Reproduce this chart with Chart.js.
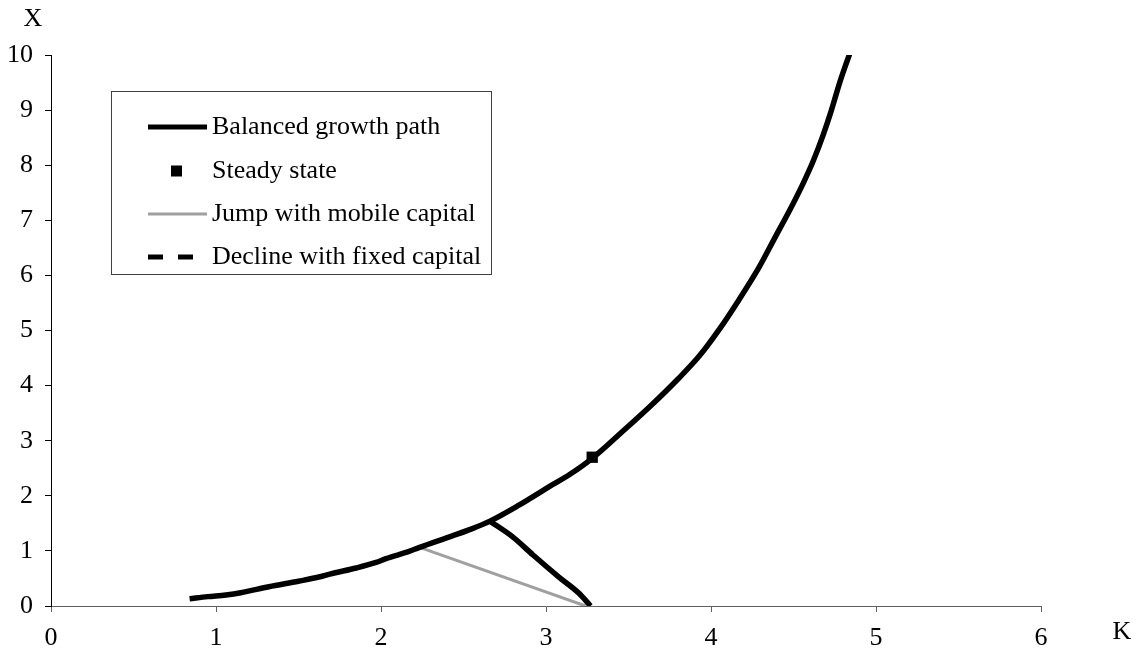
<!DOCTYPE html>
<html>
<head>
<meta charset="utf-8">
<title>Balanced growth path</title>
<script src="https://cdn.jsdelivr.net/npm/chart.js@4.4.0/dist/chart.umd.min.js"></script>
<style>
  html, body { margin: 0; padding: 0; background: #fff; }
  #wrap { position: relative; width: 1138px; height: 656px; }
</style>
</head>
<body>
<div id="wrap"><canvas id="chart"></canvas></div>
<script>
/* ---- data ---- */
const growthK  = [0.84, 0.95, 1.06, 1.15, 1.32, 1.50, 1.63, 1.69, 1.85, 1.97, 2.03, 2.17, 2.23, 2.42, 2.55, 2.66, 2.83, 3.00, 3.15, 3.28, 3.45, 3.63, 3.80, 3.93, 4.05, 4.17, 4.29, 4.39, 4.48, 4.56, 4.62, 4.68, 4.73, 4.78, 4.82, 4.85];
const growthX  = [0.13, 0.17, 0.20, 0.24, 0.35, 0.45, 0.53, 0.58, 0.69, 0.79, 0.86, 0.99, 1.06, 1.26, 1.40, 1.54, 1.82, 2.13, 2.40, 2.68, 3.13, 3.62, 4.12, 4.54, 5.02, 5.56, 6.14, 6.70, 7.20, 7.68, 8.08, 8.55, 9.00, 9.50, 9.85, 10.1];
const steadyK  = [3.28];
const steadyX  = [2.70];
const jumpK    = [2.23, 3.24];
const jumpX    = [1.07, 0];
const declineK = [2.66, 2.80, 2.92, 3.08, 3.20, 3.27];
const declineX = [1.54, 1.25, 0.93, 0.52, 0.23, 0];
const kTicks   = [0, 1, 2, 3, 4, 5, 6];
const xTicks   = [0, 1, 2, 3, 4, 5, 6, 7, 8, 9, 10];
const legendLabels = ['Balanced growth path', 'Steady state', 'Jump with mobile capital', 'Decline with fixed capital'];

const FAMILY = "'Liberation Serif', 'Times New Roman', serif";
const FSIZE = 26;
const GRAY = '#a0a0a0';

const pts = (xs, ys) => xs.map((x, i) => ({ x, y: ys[i] }));

// legend box and the two axis letters, drawn on the canvas
const extras = {
  id: 'extras',
  afterDraw(chart) {
    const ctx = chart.ctx;
    ctx.save();
    ctx.font = `${FSIZE}px ${FAMILY}`;
    ctx.textBaseline = 'middle';

    const left = 111, top = 91, bottom = 274;
    const rows = [127, 171, 214, 257];
    const x0 = 148, x1 = 207, textX = 212;
    const w = Math.max(...legendLabels.map(t => ctx.measureText(t).width));
    const right = Math.round(textX + w + 10);

    ctx.fillStyle = '#fff';
    ctx.fillRect(left, top, right - left, bottom - top);
    ctx.strokeStyle = '#404040';
    ctx.lineWidth = 1;
    ctx.strokeRect(left + 0.5, top + 0.5, right - left, bottom - top);

    // samples
    ctx.strokeStyle = '#000'; ctx.lineWidth = 5;
    ctx.beginPath(); ctx.moveTo(x0, rows[0]); ctx.lineTo(x1, rows[0]); ctx.stroke();
    ctx.fillStyle = '#000';
    ctx.fillRect(171, rows[1] - 5.5, 11, 11);
    ctx.strokeStyle = GRAY; ctx.lineWidth = 3;
    ctx.beginPath(); ctx.moveTo(x0, rows[2]); ctx.lineTo(x1, rows[2]); ctx.stroke();
    ctx.strokeStyle = '#000'; ctx.lineWidth = 5;
    ctx.setLineDash([15, 15]);
    ctx.beginPath(); ctx.moveTo(x0, rows[3]); ctx.lineTo(194, rows[3]); ctx.stroke();
    ctx.setLineDash([]);

    ctx.fillStyle = '#000';
    ctx.textAlign = 'left';
    legendLabels.forEach((t, i) => ctx.fillText(t, textX, rows[i]));

    // axis letters
    ctx.textAlign = 'center';
    ctx.fillText('X', 33, 19);
    ctx.fillText('K', 1122, 632);
    ctx.restore();
  }
};

new Chart(document.getElementById('chart'), {
  type: 'scatter',
  data: {
    datasets: [
      { label: legendLabels[1], data: pts(steadyK, steadyX), showLine: false,
        pointStyle: 'rect', pointRadius: 8, pointBackgroundColor: '#000', pointBorderWidth: 0 },
      { label: legendLabels[0], data: pts(growthK, growthX), showLine: true,
        borderColor: '#000', borderWidth: 5.5, pointRadius: 0, cubicInterpolationMode: 'monotone' },
      { label: legendLabels[3], data: pts(declineK, declineX), showLine: true,
        borderColor: '#000', borderWidth: 5.5, pointRadius: 0, cubicInterpolationMode: 'monotone' },
      { label: legendLabels[2], data: pts(jumpK, jumpX), showLine: true,
        borderColor: GRAY, borderWidth: 3, pointRadius: 0 }
    ]
  },
  options: {
    responsive: true,
    maintainAspectRatio: false,
    animation: false,
    layout: { padding: { left: 0, top: 55, right: 97, bottom: 0 } },
    plugins: { legend: { display: false }, tooltip: { enabled: false } },
    scales: {
      x: {
        type: 'linear', min: 0, max: 6,
        afterBuildTicks: s => { s.ticks = kTicks.map(v => ({ value: v })); },
        afterFit: s => { s.height = 50; },
        ticks: { color: '#000', font: { family: FAMILY, size: FSIZE }, padding: 11, maxRotation: 0, autoSkip: false },
        grid: { drawOnChartArea: false, tickLength: 6, color: '#606060' },
        border: { color: '#606060', width: 1 }
      },
      y: {
        type: 'linear', min: 0, max: 10,
        afterBuildTicks: s => { s.ticks = xTicks.map(v => ({ value: v })); },
        afterFit: s => { s.width = 51; },
        ticks: { color: '#000', font: { family: FAMILY, size: FSIZE }, padding: 12, autoSkip: false },
        grid: { drawOnChartArea: false, tickLength: 6, color: '#000' },
        border: { color: '#000', width: 1 }
      }
    }
  },
  plugins: [extras]
});
</script>
</body>
</html>
